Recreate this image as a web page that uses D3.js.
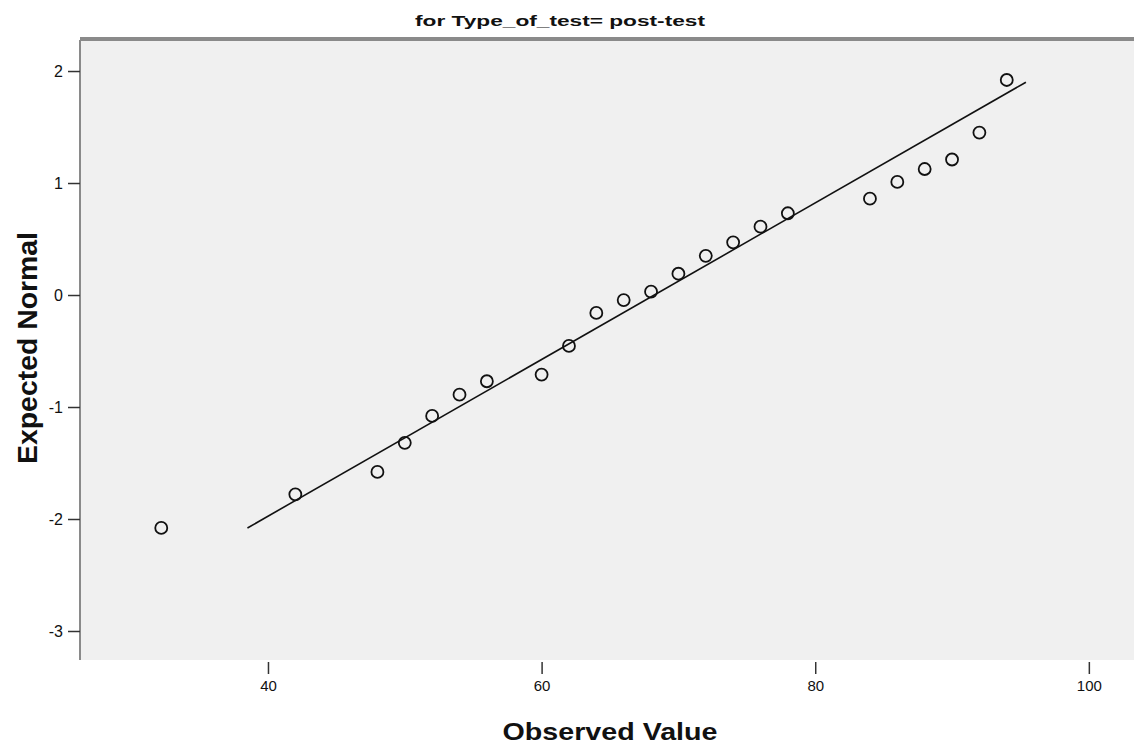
<!DOCTYPE html>
<html>
<head>
  <meta charset="utf-8">
  <title>Normal Q-Q Plot</title>
  <script src="https://d3js.org/d3.v7.min.js"></script>
  <style>
    body { margin: 0; background: #fff; }
    svg text { font-family: "Liberation Sans", Arial, sans-serif; fill: #111; }
  </style>
</head>
<body>
  <div id="chart"></div>

  <script>
    var observed = [32.2, 42, 48, 50, 52, 54, 56, 60, 62, 64, 66, 68, 70, 72, 74, 76, 78, 84, 86, 88, 90, 92, 94];
    var expected = [-2.08, -1.78, -1.58, -1.32, -1.08, -0.89, -0.77, -0.71, -0.455, -0.16, -0.045, 0.03, 0.19, 0.35, 0.47, 0.61, 0.73, 0.86, 1.01, 1.125, 1.21, 1.45, 1.92];
    // reference line end points
    var lineObserved = [38.5, 95.4];
    var lineExpected = [-2.08, 1.90];
    var xTicks = [40, 60, 80, 100];
    var yTicks = [-3, -2, -1, 0, 1, 2];

    var W = 1134, H = 747;
    var margin = { top: 40, left: 80 };
    var width = 1070, height = 620;

    var svg = d3.select('#chart').append('svg')
      .attr('width', W)
      .attr('height', H);

    var x = d3.scaleLinear().domain([26.26, 104.47]).range([0, width]);
    var y = d3.scaleLinear().domain([-3.259, 2.277]).range([height, 0]);

    var g = svg.append('g')
      .attr('transform', 'translate(' + margin.left + ',' + margin.top + ')');

    // plot background
    g.append('rect')
      .attr('width', width)
      .attr('height', height)
      .attr('fill', '#f0f0f0');

    // top bar
    g.append('rect')
      .attr('x', 0).attr('y', -3)
      .attr('width', width).attr('height', 4)
      .attr('fill', '#8a8a8a');

    // y axis
    var yAxis = g.append('g')
      .call(d3.axisLeft(y).tickValues(yTicks).tickSize(12).tickPadding(5).tickFormat(function(d) { return String(d); }));
    yAxis.select('.domain').attr('stroke', '#8a8a8a').attr('stroke-width', 2)
      .attr('d', 'M0,0V' + height);
    yAxis.selectAll('.tick line').attr('stroke', '#333').attr('stroke-width', 1.5);
    yAxis.selectAll('.tick text').style('font-size', '16px').attr('fill', '#222');

    // x axis (ticks sit just below the plot area)
    var xAxis = g.append('g')
      .attr('transform', 'translate(0,' + (height + 2) + ')')
      .call(d3.axisBottom(x).tickValues(xTicks).tickSize(12).tickPadding(6).tickFormat(function(d) { return String(d); }));
    xAxis.select('.domain').remove();
    xAxis.selectAll('.tick line').attr('stroke', '#333').attr('stroke-width', 1.5);
    xAxis.selectAll('.tick text').style('font-size', '15px').attr('fill', '#222');

    // reference line
    g.append('line')
      .attr('x1', x(lineObserved[0])).attr('y1', y(lineExpected[0]))
      .attr('x2', x(lineObserved[1])).attr('y2', y(lineExpected[1]))
      .attr('stroke', '#111')
      .attr('stroke-width', 1.6);

    // points
    g.selectAll('.pt')
      .data(observed)
      .enter()
      .append('circle')
      .attr('class', 'pt')
      .attr('cx', function(d) { return x(d); })
      .attr('cy', function(d, i) { return y(expected[i]); })
      .attr('r', 6)
      .attr('fill', 'none')
      .attr('stroke', '#111')
      .attr('stroke-width', 1.8);

    // title
    svg.append('text')
      .attr('x', 560)
      .attr('y', 26)
      .attr('text-anchor', 'middle')
      .attr('textLength', 290)
      .attr('lengthAdjust', 'spacingAndGlyphs')
      .style('font-size', '15px')
      .style('font-weight', 'bold')
      .text('for Type_of_test= post-test');

    // axis labels
    svg.append('text')
      .attr('x', 610)
      .attr('y', 740)
      .attr('text-anchor', 'middle')
      .attr('textLength', 215)
      .attr('lengthAdjust', 'spacingAndGlyphs')
      .style('font-size', '24px')
      .style('font-weight', 'bold')
      .text('Observed Value');

    svg.append('text')
      .attr('transform', 'translate(37,348) rotate(-90)')
      .attr('text-anchor', 'middle')
      .attr('textLength', 232)
      .attr('lengthAdjust', 'spacingAndGlyphs')
      .style('font-size', '27px')
      .style('font-weight', 'bold')
      .text('Expected Normal');
  </script>
</body>
</html>
